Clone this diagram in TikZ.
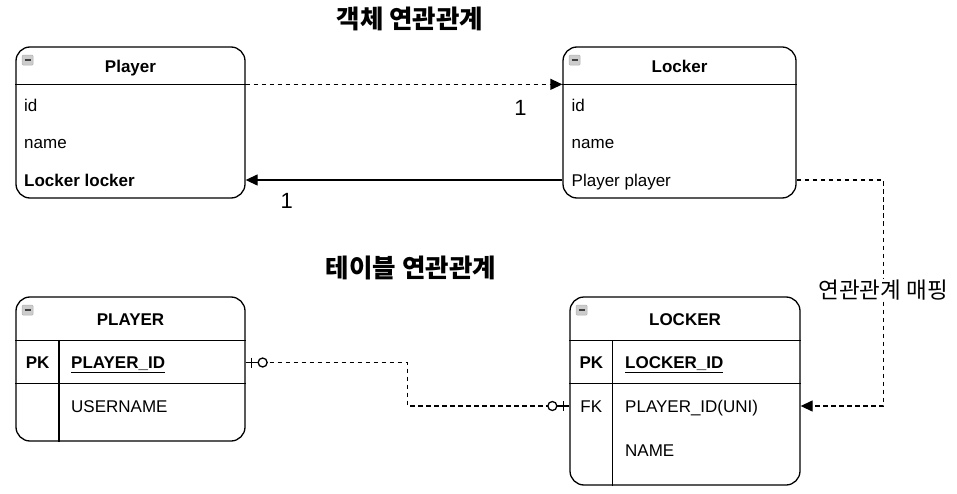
\documentclass[tikz,border=0pt]{standalone}
\usepackage{fontspec}
\setmainfont{Liberation Sans}
\newfontfamily\krfont{Noto Sans CJK KR}
\usepackage{tikz}
\usetikzlibrary{arrows.meta, positioning, calc}
\newcommand{\fieldsize}{\fontsize{17}{20}\selectfont}
\tikzstyle{entity} = [rectangle, rounded corners=14pt, minimum width=229pt, draw=black, line width=1.3pt, inner sep=0pt]
\tikzstyle{headtext} = [inner sep=0pt, text height=12.2pt, text depth=0pt, font=\fieldsize\bfseries]
\tikzstyle{field} = [anchor=west, inner sep=0pt, text height=12.2pt, text depth=0pt, font=\fieldsize]
\tikzstyle{keyfield} = [field, font=\fieldsize\bfseries]
\tikzstyle{keytag} = [inner sep=0pt, text height=12.2pt, text depth=0pt, font=\fieldsize\bfseries]
\tikzstyle{icon} = [anchor=north west, rectangle, rounded corners=1pt, minimum width=11pt, minimum height=10pt, inner sep=0pt, draw=gray!60, fill=gray!40, line width=0.6pt, path picture={\draw[black!75, line width=1.4pt] ([xshift=2.5pt]path picture bounding box.west) -- ([xshift=-2.5pt]path picture bounding box.east);}]
\tikzstyle{heading} = [font=\krfont\fontsize{25.5}{29}\selectfont\bfseries]
\tikzstyle{mult} = [font=\fontsize{22}{26}\selectfont]
\tikzstyle{arrow} = [line width=1.3pt, -{Triangle[length=12pt, width=11pt]}]
\tikzstyle{dasharrow} = [arrow, dash pattern=on 4.5pt off 3.5pt]
\tikzstyle{erline} = [line width=1.3pt, dash pattern=on 4.5pt off 3.5pt]

\begin{document}
\begin{tikzpicture}[x=1pt, y=-1pt]
    \useasboundingbox (0,0) rectangle (957,494);

    \node[heading] (objtitle) at (410,18.5) {객체 연관관계};
    \node[heading] (tabletitle) at (411,268) {테이블 연관관계};

    % object model
    \node[entity, minimum height=151pt] (player) at (130.5,122.5) {};
    \draw[line width=1.3pt] ([yshift=-38pt]player.north west) -- ([yshift=-38pt]player.north east);
    \node[icon] (picon) at ([shift={(6.5pt,-8.5pt)}]player.north west) {};
    \node[headtext] (playerhead) at ([yshift=-20pt]player.north) {Player};
    \node[field] (pid) at (24,105) {id};
    \node[field] (pname) at (24,142.5) {name};
    \node[keyfield] (plocker) at (24,180) {Locker locker};

    \node[entity, minimum width=233pt, minimum height=151pt] (locker) at (679.5,122.5) {};
    \draw[line width=1.3pt] ([yshift=-38pt]locker.north west) -- ([yshift=-38pt]locker.north east);
    \node[icon] (licon) at ([shift={(6.5pt,-8.5pt)}]locker.north west) {};
    \node[headtext] (lockerhead) at ([yshift=-20pt]locker.north) {Locker};
    \node[field] (lid) at (571.5,105) {id};
    \node[field] (lname) at (571.5,142.5) {name};
    \node[field] (lplayer) at (571.5,180) {Player player};

    % tables
    \node[entity, minimum height=144pt] (ptable) at (130.5,369) {};
    \draw[line width=1.3pt] ([yshift=-44pt]ptable.north west) -- ([yshift=-44pt]ptable.north east);
    \draw[line width=1.3pt] ([yshift=-87pt]ptable.north west) -- ([yshift=-87pt]ptable.north east);
    \draw[line width=1.3pt] ([shift={(43.5pt,-44pt)}]ptable.north west) -- ([xshift=43.5pt]ptable.south west);
    \node[icon] (pticon) at ([shift={(6.5pt,-8.5pt)}]ptable.north west) {};
    \node[headtext] (ptabhead) at ([yshift=-23pt]ptable.north) {PLAYER};
    \node[keytag] (ppk) at (37.7,362.5) {PK};
    \node[keyfield] (pkey) at (71,362.5) {\underline{PLAYER\_ID}};
    \node[field] (puser) at (71,406) {USERNAME};

    \node[entity, minimum width=230pt, minimum height=188pt] (ltable) at (685,391) {};
    \draw[line width=1.3pt] ([yshift=-44pt]ltable.north west) -- ([yshift=-44pt]ltable.north east);
    \draw[line width=1.3pt] ([yshift=-87pt]ltable.north west) -- ([yshift=-87pt]ltable.north east);
    \draw[line width=1.3pt] ([shift={(43.3pt,-44pt)}]ltable.north west) -- ([xshift=43.3pt]ltable.south west);
    \node[icon] (lticon) at ([shift={(6.5pt,-8.5pt)}]ltable.north west) {};
    \node[headtext] (ltabhead) at ([yshift=-23pt]ltable.north) {LOCKER};
    \node[keytag] (lpk) at (591.3,362.5) {PK};
    \node[keyfield] (lkey) at (625,362.5) {\underline{LOCKER\_ID}};
    \node[keytag, font=\fieldsize] (lfk) at (591.3,406) {FK};
    \node[field] (lfkey) at (625,406) {PLAYER\_ID(UNI)};
    \node[field] (lnamecol) at (625,450) {NAME};

    % object references
    \draw[dasharrow] ([yshift=-38pt]player.north east) -- ([yshift=-38pt]locker.north west);
    \node[mult] (m1) at (520.5,108) {1};
    \draw[arrow] (locker.west |- lplayer) -- (player.east |- lplayer);
    \node[mult] (m2) at (286.7,201.3) {1};

    % mapping
    \draw[dasharrow] (locker.east |- lplayer) -- ++(86.5,0) coordinate (mapbend)
        -- (mapbend |- lfkey) node[midway, yshift=3pt, fill=white, inner sep=1pt, font=\krfont\fontsize{22.5}{26}\selectfont] (maplabel) {연관관계 매핑}
        -- (ltable.east |- lfkey);

    % foreign key relation
    \coordinate (ermid) at ($(ptable.east)!0.5!(ltable.west)$);
    \coordinate (erstart) at (ptable.east |- ppk);
    \coordinate (erend) at (ltable.west |- lfk);
    \draw[erline] (erstart) -| (ermid) |- (erend);
    \draw[line width=1.3pt] (erstart) -- ++(13,0);
    \draw[line width=1.3pt] (erstart) ++(6,-5) -- ++(0,10);
    \draw[line width=1.3pt, fill=white] (erstart) ++(17,0) circle (4.5pt);
    \draw[line width=1.3pt] (erend) -- ++(-13,0);
    \draw[line width=1.3pt] (erend) ++(-6,-5) -- ++(0,10);
    \draw[line width=1.3pt, fill=white] (erend) ++(-17,0) circle (4.5pt);
\end{tikzpicture}
\end{document}
